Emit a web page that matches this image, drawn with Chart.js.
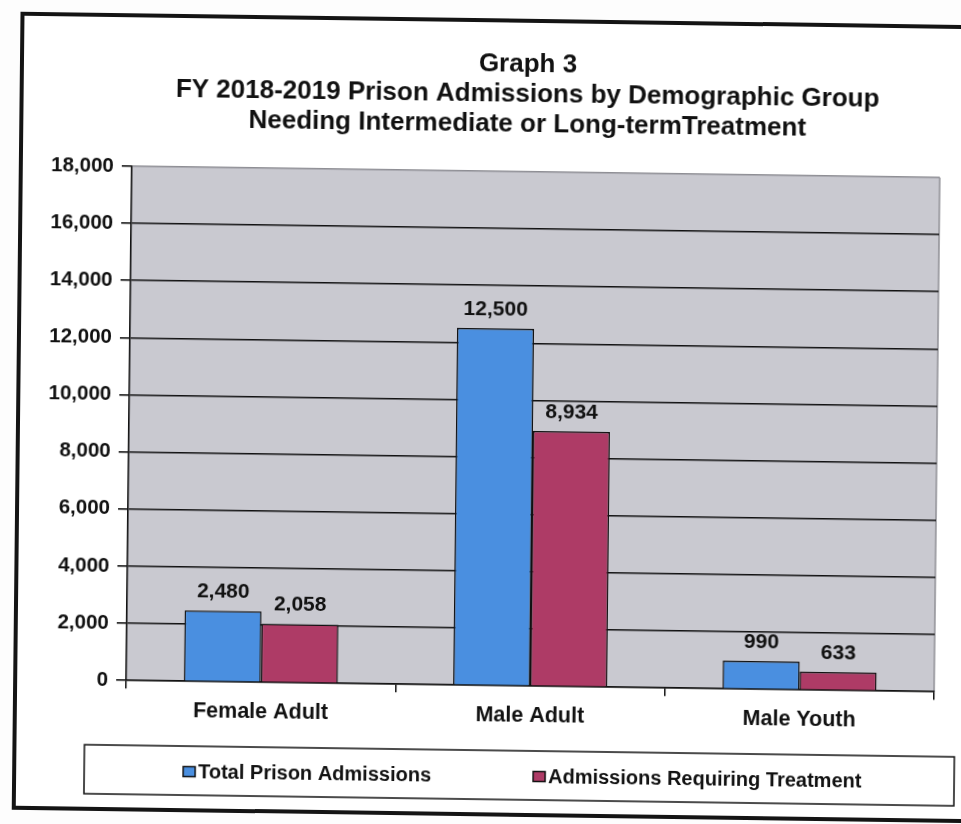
<!DOCTYPE html>
<html>
<head>
<meta charset="utf-8">
<title>Graph 3</title>
<script src="https://cdn.jsdelivr.net/npm/chart.js@4.4.1/dist/chart.umd.min.js"></script>
<style>
  html, body { margin: 0; padding: 0; background: #fdfdfd; overflow: hidden; }
  #sheet {
    position: relative;
    width: 961px;
    height: 824px;
    /* the page sits a little crooked on the scanner */
    transform: matrix(1, 0.014, -0.011, 1, 0, 0);
    transform-origin: 536px 430px;
  }
  #frame {
    position: absolute;
    left: 16px;
    top: 19px;
    width: 1000px;
    height: 790px;
    border: 4px solid #141414;
    background: #fff;
  }
  #chart { position: absolute; left: 0; top: 0; }
</style>
</head>
<body>
<div id="sheet">
  <div id="frame"></div>
  <canvas id="chart" width="961" height="824"></canvas>
</div>
<script>
const titleLines = [
  'Graph 3',
  'FY 2018-2019 Prison Admissions by Demographic Group',
  'Needing Intermediate or Long-termTreatment'
];
const categories = ['Female Adult', 'Male Adult', 'Male Youth'];
const seriesNames = ['Total Prison Admissions', 'Admissions Requiring Treatment'];
const totalAdmissions = [2480, 12500, 990];
const requiringTreatment = [2058, 8934, 633];
const yMax = 18000;
const yStep = 2000;

const FONT = "'Liberation Sans', Arial, sans-serif";
const INK = '#111111';

const fmt = (v) => Number(v).toLocaleString('en-US');

// three centred heading lines over the plot
const headerTitle = {
  id: 'headerTitle',
  afterDraw(chart) {
    const { ctx } = chart;
    ctx.save();
    ctx.font = 'bold 26px ' + FONT;
    ctx.fillStyle = INK;
    ctx.textAlign = 'center';
    ctx.textBaseline = 'middle';
    titleLines.forEach((line, i) => ctx.fillText(line, 524, 65 + i * 30));
    ctx.restore();
  }
};

// grey plot background, grey right edge
const plotBackground = {
  id: 'plotBackground',
  beforeDraw(chart) {
    const { ctx, chartArea: a } = chart;
    ctx.save();
    ctx.fillStyle = '#c9c9d0';
    ctx.fillRect(a.left, a.top, a.right - a.left, a.bottom - a.top);
    ctx.strokeStyle = '#8e8e94';
    ctx.lineWidth = 1.5;
    ctx.beginPath();
    ctx.moveTo(a.right, a.top);
    ctx.lineTo(a.right, a.bottom);
    ctx.stroke();
    ctx.restore();
  }
};

// value labels above each bar
const barValues = {
  id: 'barValues',
  afterDatasetsDraw(chart) {
    const { ctx } = chart;
    ctx.save();
    ctx.font = 'bold 21px ' + FONT;
    ctx.fillStyle = INK;
    ctx.textAlign = 'center';
    ctx.textBaseline = 'alphabetic';
    chart.data.datasets.forEach((ds, i) => {
      chart.getDatasetMeta(i).data.forEach((bar, j) => {
        ctx.fillText(fmt(ds.data[j]), bar.x, bar.y - 13);
      });
    });
    ctx.restore();
  }
};

// boxed legend under the axis
const boxedLegend = {
  id: 'boxedLegend',
  afterDraw(chart) {
    const { ctx } = chart;
    const box = { x: 88, y: 751, w: 870, h: 49 };
    const itemX = [187, 537];
    const midY = 776.5;
    ctx.save();
    ctx.strokeStyle = INK;
    ctx.lineWidth = 1.5;
    ctx.strokeRect(box.x, box.y, box.w, box.h);
    ctx.font = 'bold 20px ' + FONT;
    ctx.textBaseline = 'middle';
    ctx.textAlign = 'left';
    chart.data.datasets.forEach((ds, i) => {
      const x = itemX[i];
      ctx.fillStyle = ds.backgroundColor;
      ctx.fillRect(x, midY - 5, 12, 10);
      ctx.strokeStyle = INK;
      ctx.lineWidth = 1.5;
      ctx.strokeRect(x, midY - 5, 12, 10);
      ctx.fillStyle = INK;
      ctx.fillText(ds.label, x + 15, midY + 1);
    });
    ctx.restore();
  }
};

new Chart(document.getElementById('chart'), {
  type: 'bar',
  data: {
    labels: categories,
    datasets: [
      {
        label: seriesNames[0],
        data: totalAdmissions,
        backgroundColor: '#4a8fe0',
        borderColor: INK,
        borderWidth: 1.5
      },
      {
        label: seriesNames[1],
        data: requiringTreatment,
        backgroundColor: '#ae3b66',
        borderColor: INK,
        borderWidth: 1.5
      }
    ]
  },
  options: {
    responsive: false,
    animation: false,
    devicePixelRatio: 1,
    datasets: { bar: { categoryPercentage: 0.572, barPercentage: 1 } },
    layout: { padding: { left: 45, right: 24, top: 172, bottom: 86 } },
    plugins: {
      legend: { display: false },
      tooltip: { enabled: false },
      title: { display: false }
    },
    scales: {
      x: {
        grid: {
          drawOnChartArea: false,
          drawTicks: true,
          tickLength: 8,
          color: INK,
          lineWidth: 1.5
        },
        border: { color: INK, width: 1.6 },
        ticks: {
          color: INK,
          padding: 9,
          font: { family: FONT, size: 21.5, weight: 'bold' }
        }
      },
      y: {
        min: 0,
        max: yMax,
        afterFit(scale) { scale.width = 84; },
        grid: {
          color: (c) => (c.tick && c.tick.value === yMax ? '#8e8e94' : INK),
          tickColor: INK,
          lineWidth: 1.6,
          tickLength: 10
        },
        border: { color: INK, width: 1.6 },
        ticks: {
          stepSize: yStep,
          padding: 8,
          color: INK,
          font: { family: FONT, size: 20.5, weight: 'bold' },
          callback: (v) => fmt(v)
        }
      }
    }
  },
  plugins: [plotBackground, barValues, boxedLegend, headerTitle]
});
</script>
</body>
</html>
